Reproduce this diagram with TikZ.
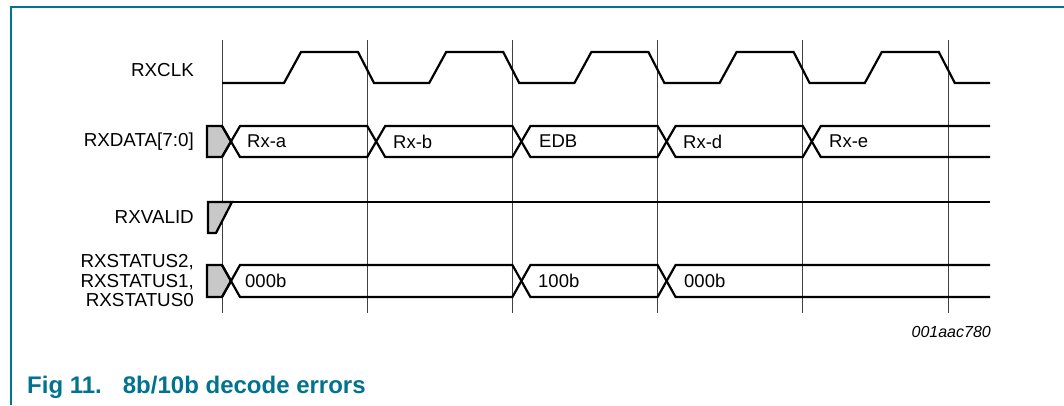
\documentclass[tikz,border=0pt]{standalone}
\usepackage{fontspec}
\setmainfont{Liberation Sans}
\usepackage{tikz}
\usetikzlibrary{positioning}
\definecolor{nxpteal}{RGB}{0, 115, 143}
\definecolor{busgray}{RGB}{200, 200, 200}
\tikzset{
	sig/.style={draw, line width=2.2pt, line join=miter},
	tick/.style={draw, line width=0.8pt, black!75},
	frame/.style={draw, line width=1.5pt, nxpteal},
	hold/.style={sig, fill=busgray},
	signame/.style={anchor=east, inner sep=0pt, font=\fontsize{18.8}{19.5}\selectfont, align=right},
	busval/.style={anchor=west, inner sep=0pt, font=\fontsize{18.5}{19}\selectfont}
}

\begin{document}
\begin{tikzpicture}[x=1pt, y=-1pt]
		\useasboundingbox (0,0) rectangle (1064,405);
		\draw[frame] (11,405) -- (11,7) -- (1064,7);
		% clock edges
		\foreach \k in {0,...,5}
			\draw[tick] ({222+145.2*\k},40) -- ({222+145.2*\k},313);
		% signal names
		\node[signame] (clk) at (194,70) {RXCLK};
		\node[signame] (data) at (194,142) {RXDATA[7:0]};
		\node[signame] (valid) at (194,217) {RXVALID};
		\node[signame] (status) at (194,281) {RXSTATUS2,\\RXSTATUS1,\\RXSTATUS0};
		% RXCLK
		\draw[sig] (222,83) \foreach \k in {0,...,4} { -- ({284+145.2*\k},83) -- ({301+145.2*\k},52) -- ({358+145.2*\k},52) -- ({374+145.2*\k},83) } -- (990,83);
		% RXDATA
		\draw[hold] (207,126) -- (222,126) -- (231,141.5) -- (222,157) -- (207,157) -- cycle;
		\draw[sig] (222,126) -- (240,157) -- (367.2,157) -- (385.2,126) -- (512.4,126) -- (530.4,157) -- (657.6,157) -- (675.6,126) -- (802.8,126) -- (820.8,157) -- (990,157);
		\draw[sig] (222,157) -- (240,126) -- (367.2,126) -- (385.2,157) -- (512.4,157) -- (530.4,126) -- (657.6,126) -- (675.6,157) -- (802.8,157) -- (820.8,126) -- (990,126);
		\node[busval] (rxa) at (247,141.5) {Rx-a};
		\node[busval] (rxb) at (393,141.5) {Rx-b};
		\node[busval] (edb) at (539,141.5) {EDB};
		\node[busval] (rxd) at (683,141.5) {Rx-d};
		\node[busval] (rxe) at (829,141.5) {Rx-e};
		% RXVALID
		\draw[hold] (208,202) -- (232,202) -- (216,233) -- (208,233) -- cycle;
		\draw[sig] (232,202) -- (990,202);
		% RXSTATUS
		\draw[hold] (207,265) -- (222,265) -- (231,281) -- (222,297) -- (207,297) -- cycle;
		\draw[sig] (222,265) -- (240,297) -- (512.4,297) -- (530.4,265) -- (657.6,265) -- (675.6,297) -- (990,297);
		\draw[sig] (222,297) -- (240,265) -- (512.4,265) -- (530.4,297) -- (657.6,297) -- (675.6,265) -- (990,265);
		\node[busval] (st0) at (245,281) {000b};
		\node[busval] (st1) at (538,281) {100b};
		\node[busval] (st2) at (684,281) {000b};
		\node[anchor=east, inner sep=0pt, font=\fontsize{16}{18}\selectfont\itshape] (figid) at (991,332) {001aac780};
		\node[anchor=base west, inner sep=0pt, text=nxpteal, font=\fontsize{24}{27}\selectfont\bfseries] (caption) at (27,393) {Fig 11.\hspace{21pt}8b/10b decode errors};
\end{tikzpicture}
\end{document}
